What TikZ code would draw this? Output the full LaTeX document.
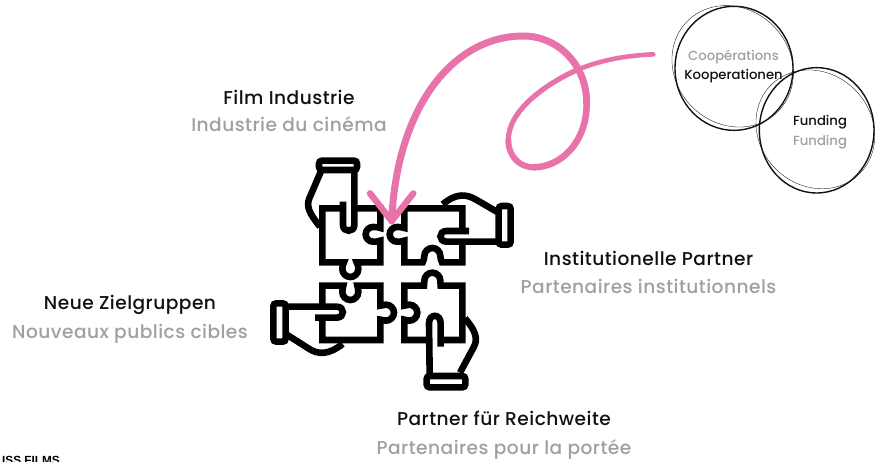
\documentclass[tikz,border=0pt]{standalone}
\usepackage{fontspec}
\setmainfont{Poppins Medium}[LetterSpace=2.5]
\newfontfamily\smallfont{Poppins Medium}
\newfontfamily\cutfont{Liberation Sans}
\definecolor{pinkline}{HTML}{E872AA}
\definecolor{greytext}{HTML}{9DA1A3}
\definecolor{darktext}{HTML}{111111}
\tikzset{
  lead/.style={font=\fontsize{18.6}{20}\selectfont,text=darktext,inner sep=0pt},
  sub/.style={font=\fontsize{18.6}{20}\selectfont,text=greytext,inner sep=0pt},
  leadsm/.style={font=\smallfont\fontsize{13.2}{15}\selectfont,text=darktext,inner sep=0pt},
  subsm/.style={font=\smallfont\fontsize{13.2}{15}\selectfont,text=greytext,inner sep=0pt},
  iconline/.style={line width=6.6pt,line join=miter,line cap=butt,draw=black},
  pinkstroke/.style={draw=pinkline,line cap=round,line join=round},
  ringmain/.style={draw=darktext,line width=1.4pt},
  ringthin/.style={draw=darktext,line width=0.35pt}
}
\begin{document}
\begin{tikzpicture}[x=1pt,y=-1pt]
\useasboundingbox (0,0) rectangle (875,462);
\clip (0,0) rectangle (875,462);
\fill[white] (0,0) rectangle (875,462);
% puzzle icon (coordinates from a 3x crop at 270,150)
\begin{scope}[shift={(270pt,-150pt)},x=0.33333pt,y=-0.33333pt,every path/.append style={iconline}]
 % top-left piece
 \draw (218,175) -- (157,175) -- (157,337) -- (222,337) .. controls (218,345) and (217,350) .. (217,357) .. controls (217,370) and (228,381) .. (241,381) .. controls (254,381) and (265,370) .. (265,357) .. controls (265,350) and (264,345) .. (260,337) -- (331,337) -- (331,272) .. controls (324,275) and (318,275) .. (309,275) .. controls (297,275) and (287,265) .. (287,253) .. controls (287,241) and (297,231) .. (309,231) .. controls (318,231) and (324,231) .. (331,234) -- (331,175) -- (245,175);
 % top hand
 \draw[rounded corners=3pt] (147,32) rectangle (261,60);
 \draw (219,155) -- (219,225) .. controls (219,248) and (253,248) .. (253,225) -- (253,62);
 \draw (152,66) -- (118,145) .. controls (108,170) and (118,190) .. (150,230);
 % top-right piece
 \draw (577,240) -- (577,175) -- (403,175) -- (403,234) .. controls (395,231) and (390,231) .. (381,231) .. controls (369,231) and (359,241) .. (359,253) .. controls (359,265) and (369,275) .. (381,275) .. controls (390,275) and (395,275) .. (403,272) -- (403,337) -- (458,337) .. controls (461,330) and (463,325) .. (463,318) .. controls (463,305) and (474,294) .. (487,294) .. controls (500,294) and (511,305) .. (511,318) .. controls (511,325) and (513,330) .. (516,337) -- (577,337) -- (577,275);
 % right hand
 \draw[rounded corners=3pt] (686,168) rectangle (722,284);
 \draw (597,243) -- (530,243) .. controls (505,243) and (505,275) .. (530,275) -- (684,275);
 \draw (518,163) .. controls (560,128) and (590,132) .. (620,150) -- (682,186);
 % bottom-left piece
 \draw (157,470) -- (157,407) -- (220,407) .. controls (218,415) and (217,420) .. (217,426) .. controls (217,439) and (228,450) .. (241,450) .. controls (254,450) and (265,439) .. (265,426) .. controls (265,420) and (264,415) .. (262,407) -- (331,407) -- (331,467) .. controls (337,465) and (342,464) .. (348,464) .. controls (361,464) and (372,475) .. (372,488) .. controls (372,501) and (361,512) .. (348,512) .. controls (342,512) and (337,511) .. (331,509) -- (331,570) -- (157,570) -- (157,503);
 % left hand
 \draw[rounded corners=3pt] (10,460) rectangle (47,575);
 \draw (50,470) -- (200,470) .. controls (225,470) and (225,503) .. (200,503) -- (135,503);
 \draw (52,555) -- (115,595) .. controls (145,615) and (175,615) .. (218,582);
 % bottom-right piece
 \draw (478,570) -- (403,570) -- (403,509) .. controls (409,511) and (412,512) .. (418,512) .. controls (431,512) and (442,501) .. (442,488) .. controls (442,475) and (431,464) .. (418,464) .. controls (412,464) and (409,465) .. (403,467) -- (403,407) -- (462,407) .. controls (463,402) and (463,397) .. (463,392) .. controls (463,379) and (474,368) .. (487,368) .. controls (500,368) and (511,379) .. (511,392) .. controls (511,397) and (511,402) .. (512,407) -- (577,407) -- (577,570) -- (515,570);
 % bottom hand
 \draw[rounded corners=3pt] (470,678) rectangle (586,712);
 \draw (479,672) -- (477,520) .. controls (477,490) and (512,490) .. (512,520) -- (512,590);
 \draw (570,668) -- (612,590) .. controls (625,565) and (615,540) .. (585,505);
\end{scope}
% pink arrow (coordinates from a 3x crop at 370,20)
\begin{scope}[shift={(370pt,-20pt)},x=0.33333pt,y=-0.33333pt]
 \coordinate (arrowstart) at (850,103);
 \coordinate (arrowtip) at (65,603);
 \draw[pinkstroke,line width=4.6pt] (arrowstart) .. controls (760,107) and (690,122) .. (625,148);
 \draw[pinkstroke,line width=5.2pt] (625,148) .. controls (530,190) and (415,270) .. (415,360);
 \draw[pinkstroke,line width=6pt] (415,360) .. controls (415,410) and (450,442) .. (490,442);
 \draw[pinkstroke,line width=6.6pt] (490,442) .. controls (570,442) and (650,370) .. (650,250);
 \draw[pinkstroke,line width=7pt] (650,250) .. controls (650,130) and (560,48) .. (460,48) .. controls (250,48) and (80,260) .. (arrowtip);
 \draw[pinkstroke,line width=6.4pt] (0,520) -- (arrowtip) -- (130,520);
\end{scope}
% circles (coordinates from a 3x crop at 640,0)
\begin{scope}[shift={(640pt,0pt)},x=0.33333pt,y=-0.33333pt]
 \draw[ringthin] (278,199) ellipse[x radius=192,y radius=172,rotate=-45];
 \draw[ringmain] (282,205) ellipse[x radius=177,y radius=186];
 \draw[ringthin] (526,388) ellipse[x radius=188,y radius=168,rotate=-45];
 \draw[ringmain] (530,391) ellipse[x radius=172,y radius=188];
\end{scope}
% labels
\node[lead] (film) at (289,97) {Film Industrie};
\node[sub] (filmfr) at (289,124.5) {Industrie du cinéma};
\node[lead] (inst) at (648.5,258) {Institutionelle Partner};
\node[sub] (instfr) at (648.5,286) {Partenaires institutionnels};
\node[lead] (neue) at (130,305) {Neue Zielgruppen};
\node[sub] (neuefr) at (130,333.5) {Nouveaux publics cibles};
\node[lead] (reich) at (504,418) {Partner für Reichweite};
\node[sub] (reichfr) at (504,449.5) {Partenaires pour la portée};
\node[subsm] (coop) at (733.5,57) {Coopérations};
\node[leadsm] (koop) at (733.5,76) {Kooperationen};
\node[leadsm] (fund) at (820,122) {Funding};
\node[subsm] (fundfr) at (820,142) {Funding};
\node[anchor=base east,inner sep=0pt,font=\cutfont\fontsize{11.8}{13}\selectfont\bfseries,text=black] (cut) at (60,464) {ISS FILMS};
\end{tikzpicture}
\end{document}
